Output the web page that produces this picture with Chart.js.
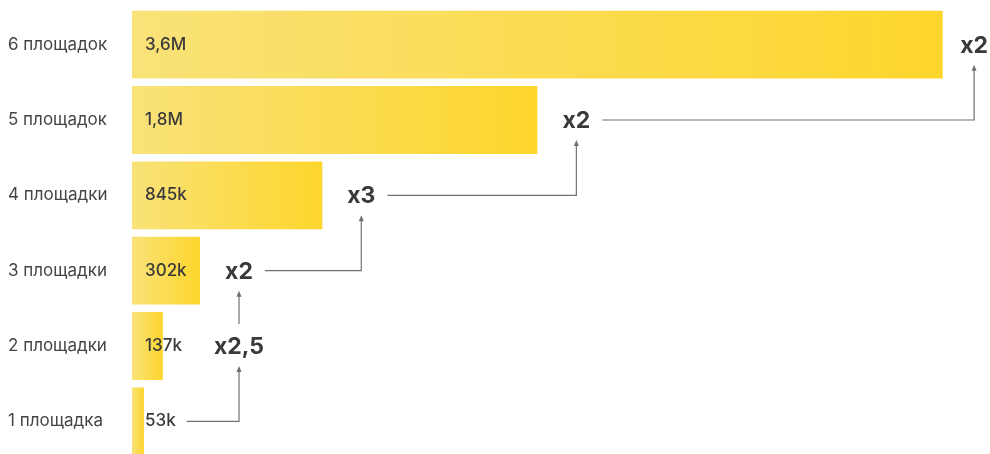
<!DOCTYPE html>
<html lang="ru">
<head>
<meta charset="utf-8">
<title>Аудитория по числу площадок</title>
<script src="https://cdn.jsdelivr.net/npm/chart.js@4.4.1/dist/chart.umd.min.js"></script>
<style>
  html, body { margin: 0; padding: 0; background: #fff; overflow: hidden; }
  #wrap { position: relative; width: 990px; height: 462px; }
</style>
</head>
<body>
<div id="wrap"><canvas id="growthChart"></canvas></div>
<script>
// rows from bottom (1) to top (6)
const categories = ['1 площадка', '2 площадки', '3 площадки', '4 площадки', '5 площадок', '6 площадок'];
const audience = [53000, 137000, 302000, 845000, 1800000, 3600000];
const audienceLabels = ['53k', '137k', '302k', '845k', '1,8M', '3,6M'];
// growth against the row below, shown to the right of each bar
const multipliers = [null, 'x2,5', 'x2', 'x3', 'x2', 'x2'];

const TEXT = '#3a3a3a';
const LINE = '#707070';
const FONT = 'Inter, Roboto, "Noto Sans", sans-serif';

// each bar gets its own left-to-right gradient, light to saturated yellow
function barGradient(context) {
    const chart = context.chart;
    const xs = chart.scales.x;
    if (!xs || !chart.chartArea) return '#fbe27a';
    const x0 = xs.getPixelForValue(0);
    const x1 = xs.getPixelForValue(audience[context.dataIndex]);
    const g = chart.ctx.createLinearGradient(x0, 0, Math.max(x1, x0 + 1), 0);
    g.addColorStop(0, '#f9e278');
    g.addColorStop(1, '#fdd62c');
    return g;
}

function arrowHead(ctx, x, tipY) {
    ctx.beginPath();
    ctx.moveTo(x, tipY);
    ctx.lineTo(x - 2.5, tipY + 6);
    ctx.lineTo(x + 2.5, tipY + 6);
    ctx.closePath();
    ctx.fill();
}

const growthArrows = {
    id: 'growthArrows',
    afterDatasetsDraw(chart) {
        const { ctx, chartArea, scales: { x, y } } = chart;
        ctx.save();
        ctx.textBaseline = 'middle';

        // values inside the bars
        ctx.font = '500 17px ' + FONT;
        ctx.fillStyle = TEXT;
        ctx.textAlign = 'left';
        const valueRight = [];
        audienceLabels.forEach((t, i) => {
            const tx = chartArea.left + 13;
            ctx.fillText(t, tx, y.getPixelForValue(i));
            valueRight[i] = tx + ctx.measureText(t).width;
        });

        // multipliers sit just past the end of their bar
        ctx.font = 'bold 23px ' + FONT;
        const cx = [], half = [];
        multipliers.forEach((m, i) => {
            if (!m) return;
            half[i] = ctx.measureText(m).width / 2;
            cx[i] = Math.min(x.getPixelForValue(audience[i]) + 39, chartArea.right - half[i] - 2);
        });
        // first step is stacked right under the second, so the arrow goes straight up
        cx[1] = cx[2];

        ctx.textAlign = 'center';
        multipliers.forEach((m, i) => {
            if (m) ctx.fillText(m, cx[i], y.getPixelForValue(i) + 1);
        });

        // connectors: right from the lower row, then up to the next multiplier
        ctx.strokeStyle = LINE;
        ctx.fillStyle = LINE;
        ctx.lineWidth = 1.2;
        for (let i = 0; i < categories.length - 1; i++) {
            const sy = y.getPixelForValue(i);
            const ty = y.getPixelForValue(i + 1);
            const tx = cx[i + 1];
            const tipY = ty + 20;
            ctx.beginPath();
            if (multipliers[i] && cx[i] === tx) {
                ctx.moveTo(tx, sy - 22);
            } else {
                const sx = multipliers[i] ? cx[i] + half[i] + 12 : valueRight[i] + 11;
                ctx.moveTo(sx, sy);
                ctx.lineTo(tx, sy);
            }
            ctx.lineTo(tx, tipY + 5);
            ctx.stroke();
            arrowHead(ctx, tx, tipY);
        }
        ctx.restore();
    }
};

new Chart(document.getElementById('growthChart'), {
    type: 'bar',
    data: {
        labels: categories,
        datasets: [{
            data: audience,
            backgroundColor: barGradient,
            borderWidth: 0,
            barPercentage: 0.9,
            categoryPercentage: 1
        }]
    },
    options: {
        indexAxis: 'y',
        responsive: true,
        maintainAspectRatio: false,
        animation: false,
        layout: { padding: { left: 8, right: 0, top: 7, bottom: 3 } },
        scales: {
            x: {
                display: false,
                min: 0,
                max: 3810000
            },
            y: {
                reverse: true,
                grid: { display: false },
                border: { display: false },
                afterFit: (scale) => {
                    scale.width = 124;
                    // rows fill the whole height, no room kept for label overhang
                    scale.paddingTop = 0;
                    scale.paddingBottom = 0;
                },
                ticks: {
                    crossAlign: 'far',
                    color: '#454545',
                    font: { family: FONT, size: 17 }
                }
            }
        },
        plugins: {
            legend: { display: false },
            tooltip: { enabled: false }
        }
    },
    plugins: [growthArrows]
});
</script>
</body>
</html>
